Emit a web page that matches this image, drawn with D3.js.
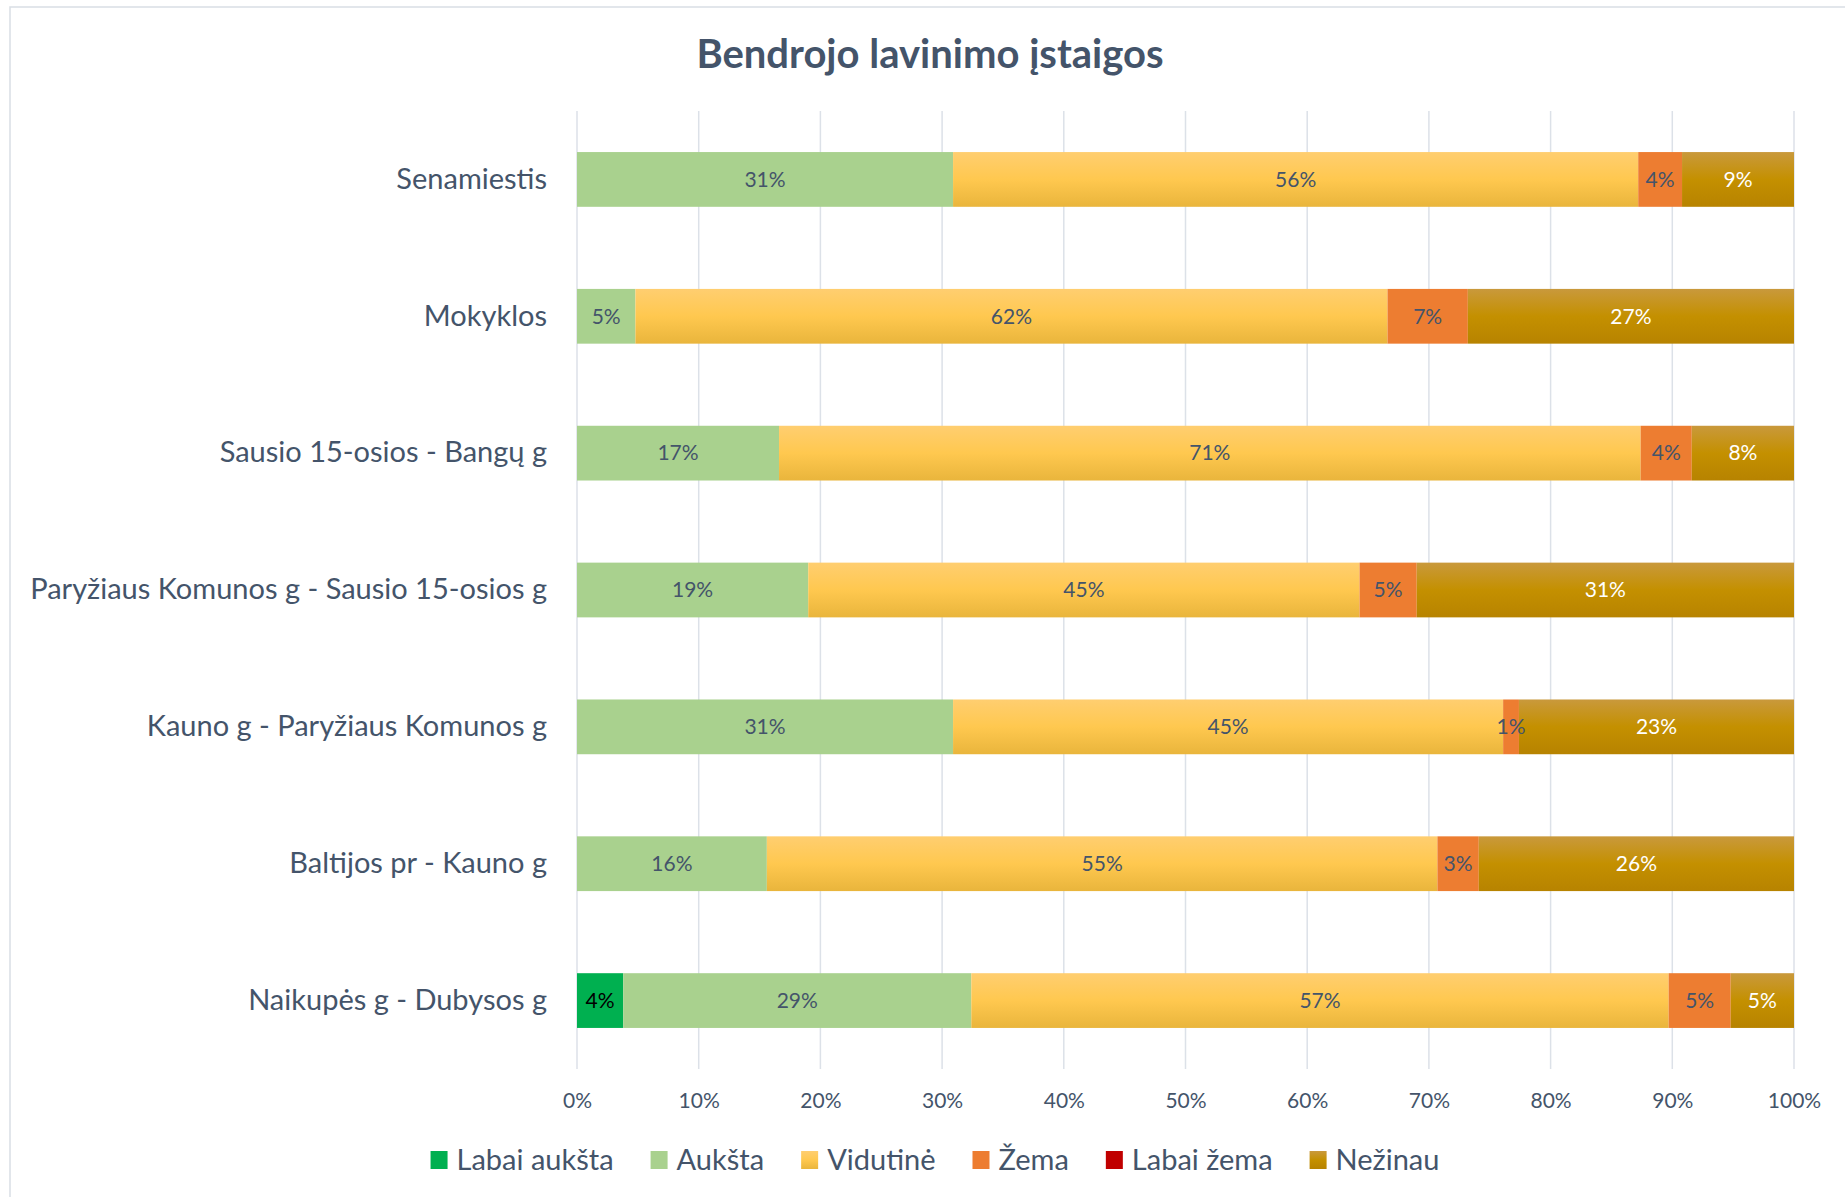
<!DOCTYPE html>
<html>
<head>
<meta charset="utf-8">
<script src="https://cdn.jsdelivr.net/npm/d3@7"></script>
<style>
  body { margin: 0; background: #fff; }
  svg { display: block; font-family: Lato, "Open Sans", sans-serif; }
</style>
</head>
<body>
<svg id="chart" width="1845" height="1197"></svg>
<script>
const title = "Bendrojo lavinimo įstaigos";

const categories = [
  "Senamiestis",
  "Mokyklos",
  "Sausio 15-osios - Bangų g",
  "Paryžiaus Komunos g - Sausio 15-osios g",
  "Kauno g - Paryžiaus Komunos g",
  "Baltijos pr - Kauno g",
  "Naikupės g - Dubysos g"
];

const seriesNames = ["Labai aukšta", "Aukšta", "Vidutinė", "Žema", "Labai žema", "Nežinau"];

// percentages per category, in category order
const labaiAuksta = [0, 0, 0, 0, 0, 0, 3.8];
const auksta      = [30.9, 4.8, 16.6, 19.0, 30.9, 15.6, 28.6];
const vidutine    = [56.3, 61.8, 70.8, 45.3, 45.2, 55.1, 57.3];
const zema        = [3.6, 6.6, 4.2, 4.7, 1.3, 3.4, 5.1];
const labaiZema   = [0, 0, 0, 0, 0, 0, 0];
const nezinau     = [9.2, 26.8, 8.4, 31.0, 22.6, 25.9, 5.2];

const xTicks = [0, 10, 20, 30, 40, 50, 60, 70, 80, 90, 100];

const seriesValues = [labaiAuksta, auksta, vidutine, zema, labaiZema, nezinau];
const fills = ["#00B050", "#A9D18E", "url(#gradYellow)", "#ED7D31", "#C00000", "url(#gradGold)"];
const labelColors = ["#000000", "#44546A", "#44546A", "#44546A", "#ffffff", "#ffffff"];

const svg = d3.select("#chart");
const textColor = "#44546A";

const defs = svg.append("defs");
function addGradient(id, top, mid, bottom) {
  const g = defs.append("linearGradient")
    .attr("id", id)
    .attr("x1", 0).attr("y1", 0)
    .attr("x2", 0).attr("y2", 1);
  g.append("stop").attr("offset", "0%").attr("stop-color", top);
  g.append("stop").attr("offset", "50%").attr("stop-color", mid);
  g.append("stop").attr("offset", "100%").attr("stop-color", bottom);
}
addGradient("gradYellow", "#FFCE70", "#FFC84F", "#E9B53C");
addGradient("gradGold", "#C9993C", "#C49000", "#B78300");

// chart frame
svg.append("rect")
  .attr("x", 10).attr("y", 7)
  .attr("width", 1900).attr("height", 1300)
  .attr("fill", "none")
  .attr("stroke", "#D9DEE5")
  .attr("stroke-width", 1.5);

const margin = { left: 577, right: 51, top: 111, bottom: 128 };
const width = 1845 - margin.left - margin.right;
const height = 1197 - margin.top - margin.bottom;

const x = d3.scaleLinear().domain([0, 100]).range([0, width]);
const y = d3.scaleBand()
  .domain(categories)
  .range([0, height])
  .paddingInner(0.6)
  .paddingOuter(0.3);

const g = svg.append("g").attr("transform", `translate(${margin.left},${margin.top})`);

// gridlines
g.append("g")
  .selectAll("line")
  .data(xTicks)
  .join("line")
  .attr("x1", (d) => x(d)).attr("x2", (d) => x(d))
  .attr("y1", 0).attr("y2", height)
  .attr("stroke", "#DCE1E8")
  .attr("stroke-width", 1.5);

// x axis labels
const xAxis = g.append("g")
  .attr("transform", `translate(0,${height})`)
  .call(d3.axisBottom(x).tickValues(xTicks).tickFormat((d) => d + "%").tickSize(0).tickPadding(24));
xAxis.select(".domain").remove();
xAxis.selectAll("text")
  .attr("fill", textColor)
  .style("font-size", "21px")
  .style("font-family", "Lato, sans-serif");

// y axis labels
const yAxis = g.append("g")
  .call(d3.axisLeft(y).tickSize(0).tickPadding(30));
yAxis.select(".domain").remove();
yAxis.selectAll("text")
  .attr("fill", textColor)
  .style("font-size", "29px")
  .style("font-family", "Lato, sans-serif");

// stack
const rows = categories.map((c, i) => {
  const row = { category: c };
  seriesNames.forEach((s, k) => { row[s] = seriesValues[k][i]; });
  return row;
});
const stacked = d3.stack().keys(seriesNames)(rows);

const layers = g.selectAll(".layer")
  .data(stacked)
  .join("g")
  .attr("class", "layer")
  .attr("fill", (d, k) => fills[k]);

layers.selectAll("rect")
  .data((d) => d.filter((p) => p[1] - p[0] > 0))
  .join("rect")
  .attr("x", (p) => x(p[0]))
  .attr("y", (p) => y(p.data.category))
  .attr("width", (p) => x(p[1]) - x(p[0]))
  .attr("height", y.bandwidth());

// data labels
stacked.forEach((layer, k) => {
  g.append("g")
    .selectAll("text")
    .data(layer.filter((p) => p[1] - p[0] > 0))
    .join("text")
    .attr("x", (p) => x((p[0] + p[1]) / 2))
    .attr("y", (p) => y(p.data.category) + y.bandwidth() / 2)
    .attr("dy", "0.35em")
    .attr("text-anchor", "middle")
    .attr("fill", labelColors[k])
    .style("font-size", "21px")
    .text((p) => Math.round(p[1] - p[0]) + "%");
});

// title
svg.append("text")
  .attr("x", 930)
  .attr("y", 54)
  .attr("dy", "0.35em")
  .attr("text-anchor", "middle")
  .attr("fill", textColor)
  .style("font-size", "40px")
  .style("font-weight", "bold")
  .text(title);

// legend
const legend = svg.append("g");
let lx = 0;
seriesNames.forEach((name, k) => {
  const item = legend.append("g").attr("transform", `translate(${lx},0)`);
  item.append("rect")
    .attr("x", 0).attr("y", -9)
    .attr("width", 17).attr("height", 18)
    .attr("fill", fills[k]);
  const t = item.append("text")
    .attr("x", 26)
    .attr("y", 0)
    .attr("dy", "0.35em")
    .attr("fill", textColor)
    .style("font-size", "29px")
    .text(name);
  lx += 26 + t.node().getComputedTextLength() + 37;
});
const legendWidth = lx - 37;
legend.attr("transform", `translate(${935 - legendWidth / 2},1160)`);
</script>
</body>
</html>
